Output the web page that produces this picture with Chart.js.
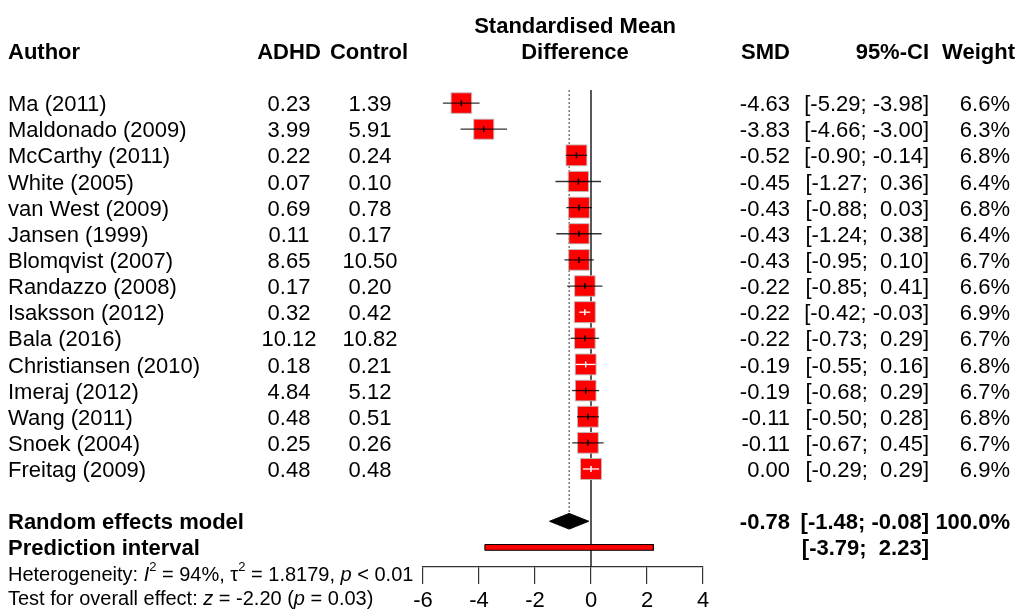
<!DOCTYPE html>
<html><head><meta charset="utf-8">
<script src="https://cdn.jsdelivr.net/npm/chart.js@4/dist/chart.umd.min.js"></script>
<style>html,body{margin:0;padding:0;background:#fff}</style>
</head><body>
<canvas id="c" width="1017" height="610"></canvas>
<script>
// ---- data ----
const authors = ["Ma (2011)","Maldonado (2009)","McCarthy (2011)","White (2005)","van West (2009)","Jansen (1999)","Blomqvist (2007)","Randazzo (2008)","Isaksson (2012)","Bala (2016)","Christiansen (2010)","Imeraj (2012)","Wang (2011)","Snoek (2004)","Freitag (2009)"];
const adhd    = [0.23, 3.99, 0.22, 0.07, 0.69, 0.11, 8.65, 0.17, 0.32, 10.12, 0.18, 4.84, 0.48, 0.25, 0.48];
const control = [1.39, 5.91, 0.24, 0.10, 0.78, 0.17, 10.50, 0.20, 0.42, 10.82, 0.21, 5.12, 0.51, 0.26, 0.48];
const smd     = [-4.63, -3.83, -0.52, -0.45, -0.43, -0.43, -0.43, -0.22, -0.22, -0.22, -0.19, -0.19, -0.11, -0.11, 0.00];
const ciLower = [-5.29, -4.66, -0.90, -1.27, -0.88, -1.24, -0.95, -0.85, -0.42, -0.73, -0.55, -0.68, -0.50, -0.67, -0.29];
const ciUpper = [-3.98, -3.00, -0.14, 0.36, 0.03, 0.38, 0.10, 0.41, -0.03, 0.29, 0.16, 0.29, 0.28, 0.45, 0.29];
const weights = [6.6, 6.3, 6.8, 6.4, 6.8, 6.4, 6.7, 6.6, 6.9, 6.7, 6.8, 6.7, 6.8, 6.7, 6.9];
const pooledSMD = -0.78, pooledLower = -1.48, pooledUpper = -0.08, pooledWeight = 100.0;
const predLower = -3.79, predUpper = 2.23;
const xTicks = [-6, -4, -2, 0, 2, 4];
const hetI2 = 94, hetTau2 = 1.8179, hetP = "< 0.01", testZ = -2.20, testP = 0.03;

// ---- layout helpers ----
const FONT = '"Liberation Sans", Arial, sans-serif';
const FS = 22;
const rowRE = 16, rowPI = 17;
const maxW = Math.max(...weights);
const boxSide = i => 21 * Math.sqrt(weights[i] / maxW);
const f2 = v => v.toFixed(2);
const pad = v => (v >= 0 ? ' ' : '') + f2(v);
const ciText = (lo, hi) => '[' + f2(lo) + '; ' + pad(hi) + ']';
function insideBox(chart, i) {
  const xs = chart.scales.x;
  return (xs.getPixelForValue(ciUpper[i]) - xs.getPixelForValue(ciLower[i])) < boxSide(i);
}

// CI line data with gaps
const ciData = [];
authors.forEach((a, i) => {
  ciData.push({x: ciLower[i], y: i}, {x: ciUpper[i], y: i}, {x: NaN, y: NaN});
});
const boxData = smd.map((v, i) => ({x: v, y: i}));
const h = 0.3, hp = 0.11;

const textPlugin = {
  id: 'forestText',
  afterDraw(chart) {
    const ctx = chart.ctx, ys = chart.scales.y;
    const Y = r => ys.getPixelForValue(r) + 2;
    ctx.save();
    ctx.fillStyle = '#000';
    ctx.textBaseline = 'middle';
    const put = (t, x, y, align, bold) => {
      ctx.font = (bold ? 'bold ' : '') + FS + 'px ' + FONT;
      ctx.textAlign = align; ctx.fillText(t, x, y);
    };
    // headers
    put('Standardised Mean', 575, Y(-3), 'center', true);
    put('Difference', 575, Y(-2), 'center', true);
    put('Author', 8, Y(-2), 'left', true);
    put('ADHD', 289, Y(-2), 'center', true);
    put('Control', 369, Y(-2), 'center', true);
    put('SMD', 790, Y(-2), 'right', true);
    put('95%-CI', 929, Y(-2), 'right', true);
    put('Weight', 1015, Y(-2), 'right', true);
    // rows
    authors.forEach((a, i) => {
      const y = Y(i);
      put(a, 8, y, 'left', false);
      put(f2(adhd[i]), 289, y, 'center', false);
      put(f2(control[i]), 370, y, 'center', false);
      put(f2(smd[i]), 790, y, 'right', false);
      put(ciText(ciLower[i], ciUpper[i]), 929, y, 'right', false);
      put(weights[i].toFixed(1) + '%', 1010, y, 'right', false);
    });
    put('Random effects model', 8, Y(rowRE), 'left', true);
    put(f2(pooledSMD), 790, Y(rowRE), 'right', true);
    put(ciText(pooledLower, pooledUpper), 929, Y(rowRE), 'right', true);
    put(pooledWeight.toFixed(1) + '%', 1010, Y(rowRE), 'right', true);
    put('Prediction interval', 8, Y(rowPI), 'left', true);
    put(ciText(predLower, predUpper), 929, Y(rowPI), 'right', true);
    // rich footnotes
    const rich = (runs, x, y) => {
      ctx.textAlign = 'left';
      runs.forEach(r => {
        const size = r.sup ? 13 : 20;
        ctx.font = (r.it ? 'italic ' : '') + size + 'px ' + FONT;
        ctx.fillText(r.t, x, r.sup ? y - 8 : y);
        x += ctx.measureText(r.t).width;
      });
    };
    rich([{t:'Heterogeneity: '},{t:'I',it:1},{t:'2',sup:1},{t:' = ' + hetI2 + '%, τ'},{t:'2',sup:1},
          {t:' = ' + hetTau2.toFixed(4) + ', '},{t:'p',it:1},{t:' ' + hetP}], 8, ys.getPixelForValue(18.07));
    rich([{t:'Test for overall effect: '},{t:'z',it:1},{t:' = ' + f2(testZ) + ' ('},{t:'p',it:1},{t:' = ' + f2(testP) + ')'}], 8, ys.getPixelForValue(18.98));
    ctx.restore();
  }
};

new Chart(document.getElementById('c'), {
  type: 'scatter',
  data: {
    datasets: [
      { type: 'line', data: [{x: 0, y: -0.5}, {x: 0, y: 17.75}], borderColor: '#000', borderWidth: 1.3,
        pointRadius: 0, order: 10 },
      { type: 'line', data: [{x: pooledSMD, y: -0.5}, {x: pooledSMD, y: rowRE - h}], borderColor: '#666',
        borderWidth: 1.3, borderDash: [2, 2], pointRadius: 0, order: 9 },
      { data: boxData, pointStyle: 'rect', pointRadius: c => boxSide(c.dataIndex) / Math.SQRT2,
        backgroundColor: '#ff0000', borderColor: 'rgba(190,190,190,0.9)', borderWidth: 1, order: 5 },
      { type: 'line', data: ciData, spanGaps: false, pointRadius: 0, borderWidth: 1.3, order: 4,
        borderColor: 'rgba(0,0,0,0.8)',
        segment: { borderColor: c => insideBox(c.chart, Math.floor(c.p0DataIndex / 3)) ? '#ffffff' : 'rgba(0,0,0,0.8)' } },
      { data: boxData, pointStyle: 'line', rotation: 90, pointRadius: 3, borderWidth: 1.5, order: 3,
        borderColor: c => insideBox(c.chart, c.dataIndex) ? '#ffffff' : '#000' },
      { type: 'line', data: [{x: pooledLower, y: rowRE}, {x: pooledSMD, y: rowRE - h}, {x: pooledUpper, y: rowRE},
        {x: pooledSMD, y: rowRE + h}, {x: pooledLower, y: rowRE}], fill: 'shape', backgroundColor: '#000',
        borderColor: '#000', borderWidth: 1, pointRadius: 0, tension: 0, order: 2 },
      { type: 'line', data: [{x: predLower, y: rowPI - hp}, {x: predUpper, y: rowPI - hp}, {x: predUpper, y: rowPI + hp},
        {x: predLower, y: rowPI + hp}, {x: predLower, y: rowPI - hp}], fill: 'shape', backgroundColor: '#ff0000',
        borderColor: '#000', borderWidth: 1, pointRadius: 0, tension: 0, order: 2 }
    ]
  },
  options: {
    responsive: false, animation: false, devicePixelRatio: 1,
    layout: { padding: { left: 423, right: 314, top: 90, bottom: 0 } },
    plugins: { legend: { display: false }, tooltip: { enabled: false } },
    scales: {
      x: { type: 'linear', min: -6, max: 4,
        afterBuildTicks: s => { s.ticks = xTicks.map(v => ({value: v})); },
        afterFit: s => { s.height = 43; },
        grid: { drawOnChartArea: false, drawTicks: true, tickLength: 17, color: '#333', lineWidth: 1.2 },
        border: { display: true, color: '#333', width: 1.2 },
        ticks: { font: { family: FONT, size: FS }, color: '#000', padding: 4, maxRotation: 0, autoSkip: false } },
      y: { type: 'linear', min: -0.5, max: 17.75, reverse: true, display: false }
    }
  },
  plugins: [textPlugin]
});
</script>
</body></html>
